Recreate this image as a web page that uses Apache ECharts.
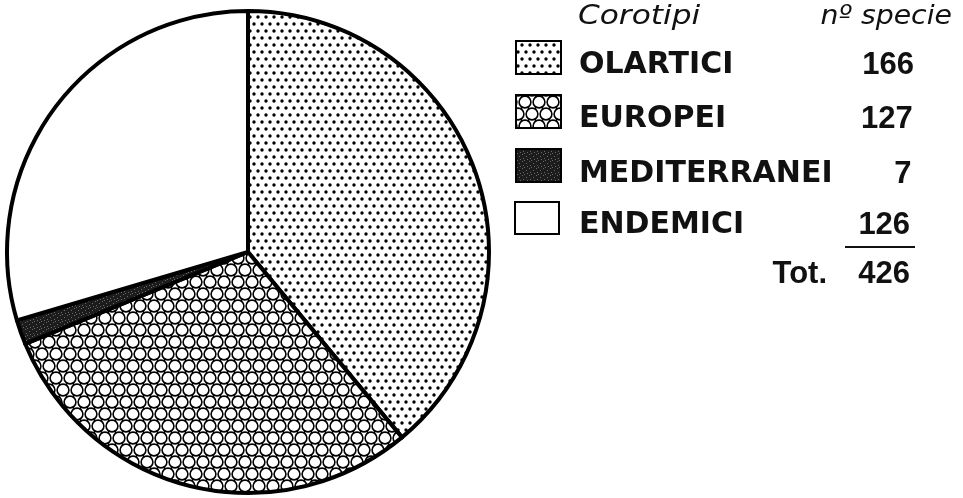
<!DOCTYPE html>
<html><head><meta charset="utf-8">
<script src="https://cdn.jsdelivr.net/npm/echarts@6/dist/echarts.min.js"></script>
<style>html,body{margin:0;padding:0;background:#fff}#c{width:963px;height:498px}</style>
</head><body><div id="c"></div>
<script>
const categories = ['OLARTICI', 'EUROPEI', 'MEDITERRANEI', 'ENDEMICI'];
const counts = [166, 127, 7, 126];
const totalLabel = 'Tot.';
const headerNames = 'Corotipi';
const headerCounts = 'nº specie';

function dotsPattern() {
  const c = document.createElement('canvas'); c.width = 8; c.height = 14;
  const g = c.getContext('2d'); g.fillStyle = '#fff'; g.fillRect(0, 0, 8, 14);
  g.fillStyle = '#000';
  [[2, 3], [6, 10]].forEach(p => { g.beginPath(); g.arc(p[0], p[1], 1.7, 0, Math.PI * 2); g.fill(); });
  return c;
}
function honeyPattern() {
  const W = 14, H = 24; const c = document.createElement('canvas'); c.width = W; c.height = H;
  const g = c.getContext('2d'); g.fillStyle = '#fff'; g.fillRect(0, 0, W, H);
  g.strokeStyle = '#000'; g.lineWidth = 1.6;
  const base = [[7, 6], [0, 18]];
  for (const b of base) for (const dx of [-W, 0, W]) for (const dy of [-H, 0, H]) {
    g.beginPath(); g.arc(b[0] + dx, b[1] + dy, 5.9, 0, Math.PI * 2); g.stroke();
  }
  g.lineWidth = 1.4;
  for (const dx of [-W, 0, W]) for (const y0 of [-12, 0, 12, 24]) {
    const off = ((y0 / 12) % 2 === 0) ? 0 : 7;
    g.beginPath(); g.moveTo(3.5 + off + dx, y0 + 10.5); g.lineTo(3.5 + off + dx, y0 + 13.5); g.stroke();
    g.beginPath(); g.moveTo(10.5 + off + dx, y0 + 10.5); g.lineTo(10.5 + off + dx, y0 + 13.5); g.stroke();
  }
  return c;
}
function darkPattern() {
  const c = document.createElement('canvas'); c.width = 7; c.height = 7;
  const g = c.getContext('2d'); g.fillStyle = '#1c1c1c'; g.fillRect(0, 0, 7, 7);
  g.fillStyle = '#6a6a6a';
  [[1, 2], [4, 0], [5, 4], [2, 5], [6, 6]].forEach(p => g.fillRect(p[0], p[1], 1, 1));
  return c;
}
const fills = [
  { image: dotsPattern(), repeat: 'repeat' },
  { image: honeyPattern(), repeat: 'repeat' },
  { image: darkPattern(), repeat: 'repeat' },
  '#ffffff'
];

const chart = echarts.init(document.getElementById('c'), null, { renderer: 'canvas' });
const data = categories.map((n, i) => ({ name: n, value: counts[i], itemStyle: { color: fills[i] } }));

const rowY = [63, 117.5, 172, 223.5];
const boxes = [[516, 41, 45, 33], [516, 95, 45, 33], [516, 149, 45, 33], [515, 202, 44, 32]];
const graphics = [];
const labelFont = 'bold 30px "DejaVu Sans"';
const numFont = 'bold 31px "Liberation Sans"';
graphics.push({ type: 'text', x: 578, y: 17, scaleX: 1.2, style: { text: headerNames, font: 'italic 26px "DejaVu Sans"', fill: '#111', textAlign: 'left', textVerticalAlign: 'middle' } });
graphics.push({ type: 'text', x: 952, y: 17, scaleX: 1.09, style: { text: headerCounts, font: 'italic 26px "DejaVu Sans"', fill: '#111', textAlign: 'right', textVerticalAlign: 'middle' } });
categories.forEach((n, i) => {
  const b = boxes[i];
  graphics.push({ type: 'rect', shape: { x: b[0], y: b[1], width: b[2], height: b[3] }, style: { fill: fills[i], stroke: '#000', lineWidth: 2 } });
  graphics.push({ type: 'text', x: 579, y: rowY[i] + 2, style: { text: n, font: labelFont, fill: '#111', textAlign: 'left', textVerticalAlign: 'middle' } });
  graphics.push({ type: 'text', x: 914 - i * 1.3, y: rowY[i] + 2, style: { text: String(counts[i]), font: numFont, fill: '#111', textAlign: 'right', textVerticalAlign: 'middle' } });
});
const total = counts.reduce((a, b) => a + b, 0);
graphics.push({ type: 'line', shape: { x1: 845, y1: 247, x2: 915, y2: 247 }, style: { stroke: '#111', lineWidth: 2 } });
graphics.push({ type: 'text', x: 827, y: 274.5, style: { text: totalLabel, font: numFont, fill: '#111', textAlign: 'right', textVerticalAlign: 'middle' } });
graphics.push({ type: 'text', x: 910, y: 274.5, style: { text: String(total), font: numFont, fill: '#111', textAlign: 'right', textVerticalAlign: 'middle' } });

chart.setOption({
  animation: false,
  backgroundColor: '#fff',
  series: [{
    type: 'pie',
    center: [248, 252],
    radius: 241,
    startAngle: 90,
    clockwise: true,
    label: { show: false },
    labelLine: { show: false },
    emphasis: { disabled: true },
    itemStyle: { borderColor: '#000', borderWidth: 4 },
    data: data
  }],
  graphic: graphics
});
</script>
</body></html>
